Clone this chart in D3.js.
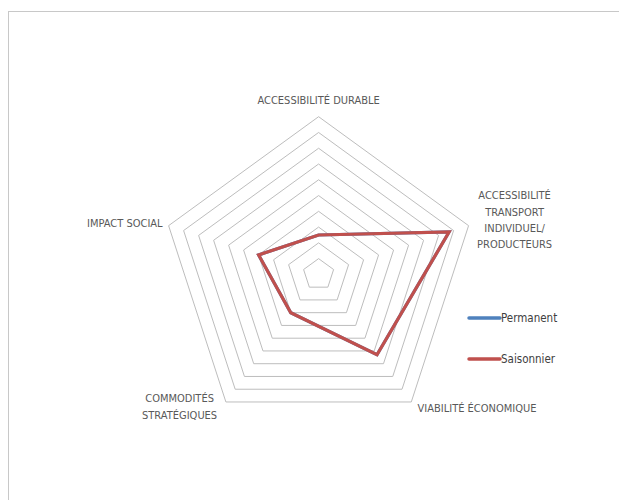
<!DOCTYPE html>
<html>
<head>
<meta charset="utf-8">
<script src="https://cdn.jsdelivr.net/npm/d3@7"></script>
<style>
  body { margin: 0; background: #fff; }
  svg { display: block; }
  text { font-family: "Liberation Sans Narrow", "DejaVu Sans Condensed", "Liberation Sans", sans-serif; }
</style>
</head>
<body>
<svg id="radar" width="619" height="500"></svg>
<script>
// axis categories (clockwise from the top)
var categories = [
     ['ACCESSIBILITÉ DURABLE'],
     ['ACCESSIBILITÉ', 'TRANSPORT', 'INDIVIDUEL/', 'PRODUCTEURS'],
     ['VIABILITÉ ÉCONOMIQUE'],
     ['COMMODITÉS', 'STRATÉGIQUES'],
     ['IMPACT SOCIAL']
];
var ring_values = [1, 2, 3, 4, 5, 6, 7, 8, 9, 10];
var series_names = ['Permanent', 'Saisonnier'];
var permanent_values = [2.5, 8.7, 6.3, 3.0, 4.0];
var saisonnier_values = [2.5, 8.7, 6.3, 3.0, 4.0];

var svg, center, r_scale, angle_scale;

document.addEventListener('DOMContentLoaded', function () {
     svg = d3.select('#radar');

     // chart area frame
     svg.append('rect')
          .attr('x', 8.5)
          .attr('y', 11.5)
          .attr('width', 700)
          .attr('height', 600)
          .attr('fill', 'none')
          .attr('stroke', '#c8c8c8');

     center = { x: 318.6, y: 274.4 };
     r_scale = d3.scaleLinear().domain([0, 10]).range([0, 157.7]);
     angle_scale = d3.scaleLinear().domain([0, categories.length]).range([0, 2 * Math.PI]);

     drawRadar();
});

function drawRadar() {
     const g = svg.append('g')
          .attr('transform', 'translate(' + center.x + ',' + center.y + ')');

     const radial = d3.lineRadial()
          .angle((d, i) => angle_scale(i))
          .radius(d => r_scale(d))
          .curve(d3.curveLinearClosed);

     // grid pentagons
     g.append('g').selectAll('path')
          .data(ring_values)
          .enter()
          .append('path')
          .attr('d', v => radial(categories.map(() => v)))
          .attr('fill', 'none')
          .attr('stroke', '#bdbdbd')
          .attr('stroke-width', 1);

     // category labels
     const label_pos = [
          { x: 0, y: -170, anchor: 'middle' },
          { x: 196, y: -75, anchor: 'middle' },
          { x: 99, y: 138, anchor: 'start' },
          { x: -139, y: 128, anchor: 'middle' },
          { x: -156, y: -47, anchor: 'end' }
     ];
     categories.forEach((lines, i) => {
          const t = g.append('text')
               .attr('x', label_pos[i].x)
               .attr('y', label_pos[i].y)
               .attr('text-anchor', label_pos[i].anchor)
               .attr('font-size', 11)
               .attr('fill', '#595959');
          lines.forEach((line, j) => {
               t.append('tspan')
                    .attr('x', label_pos[i].x)
                    .attr('dy', j === 0 ? 0 : 16.2)
                    .text(line);
          });
     });

     // series
     const series = [
          { name: series_names[0], values: permanent_values, color: '#4f81bd' },
          { name: series_names[1], values: saisonnier_values, color: '#c0504d' }
     ];
     g.append('g').selectAll('path')
          .data(series)
          .enter()
          .append('path')
          .attr('d', s => radial(s.values))
          .attr('fill', 'none')
          .attr('stroke', s => s.color)
          .attr('stroke-width', 3.2)
          .attr('stroke-linejoin', 'miter');

     // legend
     const legend = svg.append('g').attr('class', 'legend');
     series.forEach((s, i) => {
          const y = 318 + i * 41;
          legend.append('line')
               .attr('x1', 469)
               .attr('x2', 500)
               .attr('y1', y)
               .attr('y2', y)
               .attr('stroke', s.color)
               .attr('stroke-width', 3.5)
               .attr('stroke-linecap', 'round');
          legend.append('text')
               .attr('x', 501)
               .attr('y', y + 4)
               .attr('font-size', 11.5)
               .attr('fill', '#404040')
               .text(s.name);
     });
}
</script>
</body>
</html>
